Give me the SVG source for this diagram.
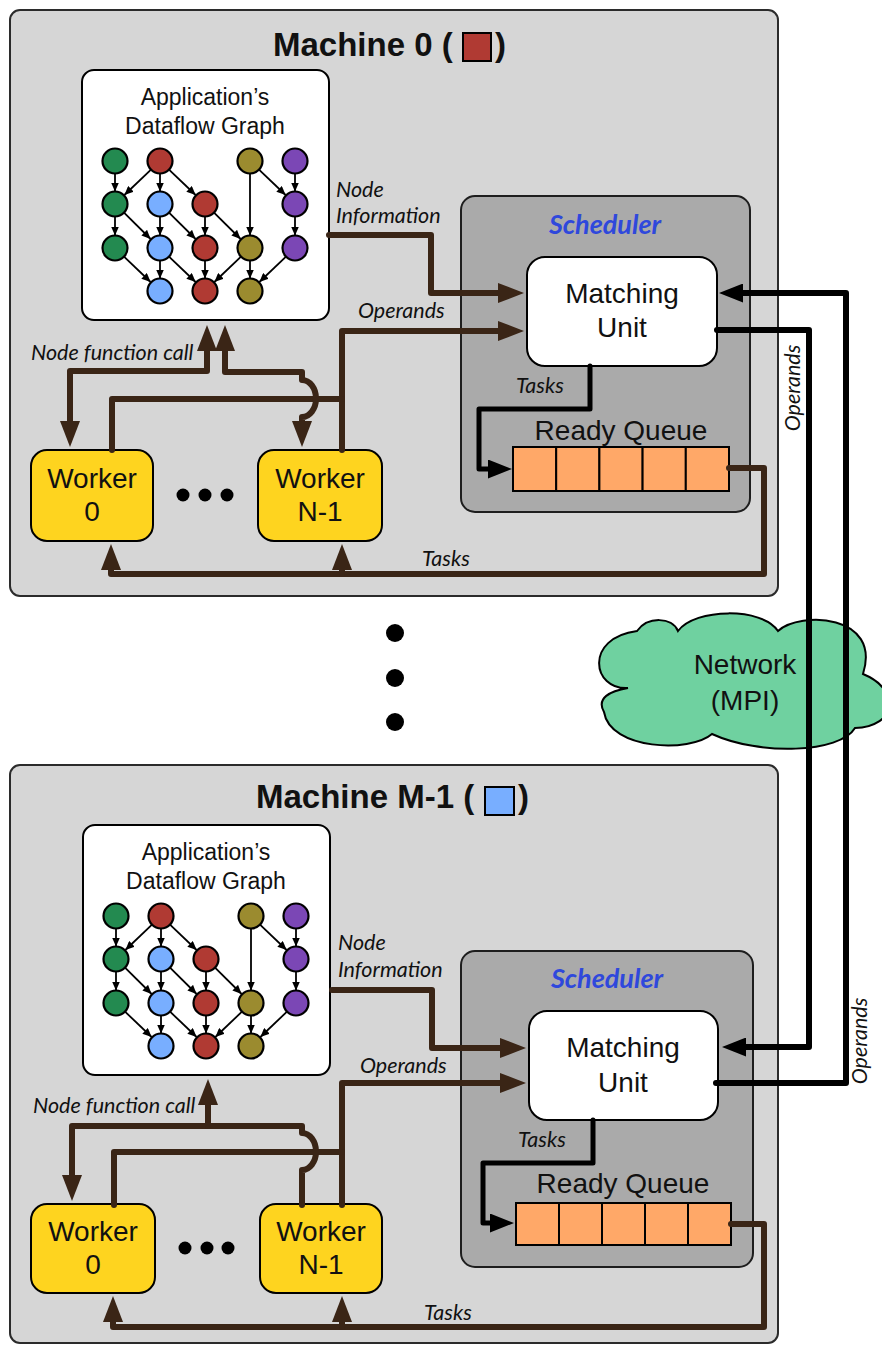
<svg xmlns="http://www.w3.org/2000/svg" xmlns:xlink="http://www.w3.org/1999/xlink" width="882" height="1347" viewBox="0 0 882 1347">
  <style>
    .machine { fill: #d6d6d6; stroke: #2b2b2b; stroke-width: 2; }
    .sched { fill: #aaaaaa; stroke: #1e1e1e; stroke-width: 2; }
    .white { fill: #ffffff; stroke: #000; stroke-width: 2; }
    .worker { fill: #fed41f; stroke: #000; stroke-width: 2; }
    .cell { fill: #ffa868; stroke: #000; stroke-width: 2; }
    .title { font-family: "Liberation Sans", Arial, sans-serif; font-weight: bold; font-size: 33px; fill: #111; }
    .lbl { font-family: "Liberation Sans", Arial, sans-serif; font-size: 28px; fill: #111; text-anchor: middle; }
    .glbl { font-family: "Liberation Sans", Arial, sans-serif; font-size: 23px; fill: #111; text-anchor: middle; }
    .it { font-family: Lato, "Open Sans", sans-serif; font-style: italic; font-size: 21.5px; fill: #111; }
    .schedlbl { font-family: Lato, "Open Sans", sans-serif; font-style: italic; font-weight: bold; font-size: 27px; fill: #2f48dc; text-anchor: middle; }
    .brown { fill: none; stroke: #3a2516; stroke-width: 6; stroke-linejoin: round; stroke-linecap: round; }
    .blk { fill: none; stroke: #000; stroke-width: 6; stroke-linejoin: round; stroke-linecap: round; }
    .blk5 { fill: none; stroke: #000; stroke-width: 5; stroke-linejoin: round; stroke-linecap: round; }
    .edge { stroke: #000; stroke-width: 1.8; marker-end: url(#sa); }
    .n { stroke: #000; stroke-width: 2.2; }
    .g { fill: #238a50; } .r { fill: #b03a33; } .b { fill: #78aeff; } .o { fill: #9b8b2f; } .p { fill: #7b47b5; }
  </style>
  <defs>
    <marker id="sa" viewBox="0 0 9 8" refX="9" refY="4" markerWidth="9" markerHeight="8" markerUnits="userSpaceOnUse" orient="auto">
      <path d="M0,0 L9,4 L0,8 z" fill="#000"/>
    </marker>
    <marker id="ab" viewBox="0 0 26 20" refX="1" refY="10" markerWidth="26" markerHeight="20" markerUnits="userSpaceOnUse" orient="auto-start-reverse">
      <path d="M0,0 L26,10 L0,20 z" fill="#3a2516"/>
    </marker>
    <marker id="ak" viewBox="0 0 24 19" refX="1" refY="9.5" markerWidth="24" markerHeight="19" markerUnits="userSpaceOnUse" orient="auto">
      <path d="M0,0 L24,9.5 L0,19 z" fill="#000"/>
    </marker>

    <!-- dataflow graph panel, shared by both machines -->
    <g id="dfg">
      <rect class="white" x="82" y="70" width="247" height="250" rx="12"/>
      <text class="glbl" x="205" y="105">Application’s</text>
      <text class="glbl" x="205" y="134">Dataflow Graph</text>
      <g>
        <line class="edge" x1="115" y1="173.5" x2="115" y2="191.5"/>
        <line class="edge" x1="160" y1="173.5" x2="160" y2="191.5"/>
        <line class="edge" x1="295" y1="173.5" x2="295" y2="191.5"/>
        <line class="edge" x1="250" y1="173.5" x2="250" y2="235.5"/>
        <line class="edge" x1="115" y1="216.5" x2="115" y2="235.5"/>
        <line class="edge" x1="160" y1="216.5" x2="160" y2="235.5"/>
        <line class="edge" x1="205" y1="216.5" x2="205" y2="235.5"/>
        <line class="edge" x1="295" y1="216.5" x2="295" y2="235.5"/>
        <line class="edge" x1="160" y1="260.5" x2="160" y2="278.5"/>
        <line class="edge" x1="205" y1="260.5" x2="205" y2="278.5"/>
        <line class="edge" x1="250" y1="260.5" x2="250" y2="278.5"/>
        <line class="edge" x1="151" y1="169.6" x2="124.4" y2="195"/>
        <line class="edge" x1="169" y1="169.6" x2="195.6" y2="195"/>
        <line class="edge" x1="259" y1="169.6" x2="285.6" y2="195"/>
        <line class="edge" x1="124" y1="212.6" x2="150.6" y2="239"/>
        <line class="edge" x1="169" y1="212.6" x2="195.6" y2="239"/>
        <line class="edge" x1="214" y1="212.6" x2="240.6" y2="239"/>
        <line class="edge" x1="124" y1="256.6" x2="150.6" y2="282"/>
        <line class="edge" x1="169" y1="256.6" x2="195.6" y2="282"/>
        <line class="edge" x1="241" y1="256.6" x2="214.4" y2="282"/>
        <line class="edge" x1="286" y1="256.6" x2="259.4" y2="282"/>
      </g>
      <g>
        <circle class="n g" cx="115" cy="161" r="12.5"/>
        <circle class="n r" cx="160" cy="161" r="12.5"/>
        <circle class="n o" cx="250" cy="161" r="12.5"/>
        <circle class="n p" cx="295" cy="161" r="12.5"/>
        <circle class="n g" cx="115" cy="204" r="12.5"/>
        <circle class="n b" cx="160" cy="204" r="12.5"/>
        <circle class="n r" cx="205" cy="204" r="12.5"/>
        <circle class="n p" cx="295" cy="204" r="12.5"/>
        <circle class="n g" cx="115" cy="248" r="12.5"/>
        <circle class="n b" cx="160" cy="248" r="12.5"/>
        <circle class="n r" cx="205" cy="248" r="12.5"/>
        <circle class="n o" cx="250" cy="248" r="12.5"/>
        <circle class="n p" cx="295" cy="248" r="12.5"/>
        <circle class="n b" cx="160" cy="291" r="12.5"/>
        <circle class="n r" cx="205" cy="291" r="12.5"/>
        <circle class="n o" cx="250" cy="291" r="12.5"/>
      </g>
    </g>
  </defs>

  <!-- Machine 0 -->
  <g id="machine0">
    <rect class="machine" x="10" y="10" width="768" height="586" rx="10"/>
    <text class="title" x="273" y="56">Machine 0 (</text>
    <rect x="463" y="33" width="28" height="28" fill="#b03a33" stroke="#000" stroke-width="2"/>
    <text class="title" x="495" y="56">)</text>
  </g>
  <g id="m0-graph"><use xlink:href="#dfg"/></g>
  <g id="m0-scheduler">
    <rect class="sched" x="461" y="196" width="289" height="316" rx="14"/>
    <text class="schedlbl" x="605" y="234">Scheduler</text>
  </g>
  <g id="m0-matching">
    <rect class="white" x="527" y="257" width="190" height="109" rx="18"/>
    <text class="lbl" x="622" y="303">Matching</text>
    <text class="lbl" x="622" y="337">Unit</text>
  </g>
  <g id="m0-queue">
    <text class="lbl" x="621" y="440">Ready Queue</text>
    <rect class="cell" x="513" y="447" width="43.2" height="44"/>
    <rect class="cell" x="556.2" y="447" width="43.2" height="44"/>
    <rect class="cell" x="599.4" y="447" width="43.2" height="44"/>
    <rect class="cell" x="642.6" y="447" width="43.2" height="44"/>
    <rect class="cell" x="685.8" y="447" width="43.2" height="44"/>
  </g>
  <g id="m0-worker0">
    <rect class="worker" x="31" y="450" width="122" height="91" rx="16"/>
    <text class="lbl" x="92" y="488">Worker</text>
    <text class="lbl" x="92" y="521">0</text>
  </g>
  <g id="m0-workerN">
    <rect class="worker" x="258" y="450" width="124" height="91" rx="16"/>
    <text class="lbl" x="320" y="488">Worker</text>
    <text class="lbl" x="320" y="521">N-1</text>
  </g>
  <g id="m0-dots">
    <circle cx="183" cy="495" r="6.5" fill="#000"/>
    <circle cx="205" cy="495" r="6.5" fill="#000"/>
    <circle cx="227" cy="495" r="6.5" fill="#000"/>
  </g>

  <!-- Machine M-1 -->
  <g id="machineM">
    <rect class="machine" x="10" y="765" width="768" height="578" rx="10"/>
    <text class="title" x="256" y="808">Machine M-1 (</text>
    <rect x="485" y="787" width="29" height="28" fill="#78aeff" stroke="#000" stroke-width="2"/>
    <text class="title" x="518" y="808">)</text>
  </g>
  <g id="mM-graph"><use xlink:href="#dfg" transform="translate(1,755)"/></g>
  <g id="mM-scheduler">
    <rect class="sched" x="461" y="951" width="292" height="316" rx="14"/>
    <text class="schedlbl" x="607" y="988">Scheduler</text>
  </g>
  <g id="mM-matching">
    <rect class="white" x="529" y="1011" width="189" height="109" rx="18"/>
    <text class="lbl" x="623" y="1057">Matching</text>
    <text class="lbl" x="623" y="1092">Unit</text>
  </g>
  <g id="mM-queue">
    <text class="lbl" x="623" y="1193">Ready Queue</text>
    <rect class="cell" x="516" y="1203" width="43" height="42"/>
    <rect class="cell" x="559" y="1203" width="43" height="42"/>
    <rect class="cell" x="602" y="1203" width="43" height="42"/>
    <rect class="cell" x="645" y="1203" width="43" height="42"/>
    <rect class="cell" x="688" y="1203" width="43" height="42"/>
  </g>
  <g id="mM-worker0">
    <rect class="worker" x="31" y="1204" width="124" height="89" rx="16"/>
    <text class="lbl" x="93" y="1241">Worker</text>
    <text class="lbl" x="93" y="1274">0</text>
  </g>
  <g id="mM-workerN">
    <rect class="worker" x="260" y="1204" width="122" height="89" rx="16"/>
    <text class="lbl" x="321" y="1241">Worker</text>
    <text class="lbl" x="321" y="1274">N-1</text>
  </g>
  <g id="mM-dots">
    <circle cx="185" cy="1248" r="6.5" fill="#000"/>
    <circle cx="207" cy="1248" r="6.5" fill="#000"/>
    <circle cx="228" cy="1248" r="6.5" fill="#000"/>
  </g>

  <!-- vertical ellipsis between machines -->
  <g id="machine-dots">
    <circle cx="395" cy="633" r="9" fill="#000"/>
    <circle cx="395" cy="678" r="9" fill="#000"/>
    <circle cx="395" cy="722" r="9" fill="#000"/>
  </g>

  <!-- network cloud -->
  <g id="network">
    <path d="M628,688 C592,690 584,638 637,631 C648,616 672,617 678,631 C695,608 762,607 778,631 C800,611 882,614 863,674 C902,690 896,727 855,728 C840,753 760,756 712,734 C690,753 610,750 604,712 C596,698 610,691 628,688 Z" fill="#6fd1a0" stroke="#000" stroke-width="2"/>
    <text class="lbl" x="745" y="674">Network</text>
    <text class="lbl" x="745" y="710">(MPI)</text>
  </g>

  <!-- connectors -->
  <g id="connectors">
    <!-- machine 0, brown data paths -->
    <path class="brown" d="M329,235 H431 V293 H499" marker-end="url(#ab)"/>
    <path class="brown" d="M342,450 V331 H499" marker-end="url(#ab)"/>
    <path class="brown" d="M342,399 H112 V450"/>
    <path class="brown" d="M70,422 V371 H207 V350" marker-start="url(#ab)" marker-end="url(#ab)"/>
    <path class="brown" d="M225,350 V372 H302 V380 A14,18.5 0 0 1 302,417 V422" marker-start="url(#ab)" marker-end="url(#ab)"/>
    <path class="brown" d="M729,468 H764 V574 H111 V569" marker-end="url(#ab)"/>
    <path class="brown" d="M342,574 V569" marker-end="url(#ab)"/>
    <path class="blk5" d="M590,366 V409 H479 V469 H489" marker-end="url(#ak)"/>

    <!-- machine M-1, brown data paths -->
    <path class="brown" d="M332,990 H432 V1048 H501" marker-end="url(#ab)"/>
    <path class="brown" d="M342,1205 V1083 H501" marker-end="url(#ab)"/>
    <path class="brown" d="M342,1152 H114 V1205"/>
    <path class="brown" d="M72,1176 V1126 H302 V1133 A14,18.5 0 0 1 302,1170 V1205" marker-start="url(#ab)"/>
    <path class="brown" d="M208,1126 V1104" marker-end="url(#ab)"/>
    <path class="brown" d="M731,1224 H764 V1327 H113 V1321" marker-end="url(#ab)"/>
    <path class="brown" d="M342,1327 V1321" marker-end="url(#ab)"/>
    <path class="blk5" d="M593,1120 V1163 H483 V1223 H491" marker-end="url(#ak)"/>

    <!-- operand exchange over the network -->
    <path class="blk" d="M716,1083 H846 V293 H742" marker-end="url(#ak)"/>
    <path class="blk" d="M717,330 H809 V1047 H745" marker-end="url(#ak)"/>
  </g>

  <!-- connector labels -->
  <g id="labels">
    <text class="it" x="336" y="197">Node</text>
    <text class="it" x="336" y="223">Information</text>
    <text class="it" x="358" y="318">Operands</text>
    <text class="it" x="31" y="360">Node function call</text>
    <text class="it" x="516" y="393">Tasks</text>
    <text class="it" x="422" y="566">Tasks</text>
    <text class="it" text-anchor="middle" transform="translate(800,388) rotate(-90)">Operands</text>

    <text class="it" x="338" y="950">Node</text>
    <text class="it" x="338" y="977">Information</text>
    <text class="it" x="360" y="1073">Operands</text>
    <text class="it" x="33" y="1113">Node function call</text>
    <text class="it" x="518" y="1147">Tasks</text>
    <text class="it" x="424" y="1320">Tasks</text>
    <text class="it" text-anchor="middle" transform="translate(867,1041) rotate(-90)">Operands</text>
  </g>
</svg>
